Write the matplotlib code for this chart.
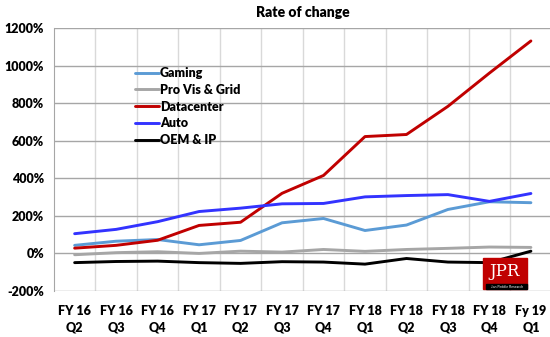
import numpy as np
import matplotlib.pyplot as plt
from matplotlib.patches import Rectangle

plt.rcParams['font.family'] = ['Lato', 'DejaVu Sans']

quarters = ['FY 16\nQ2', 'FY 16\nQ3', 'FY 16\nQ4', 'FY 17\nQ1', 'FY 17\nQ2', 'FY 17\nQ3',
            'FY 17\nQ4', 'FY 18\nQ1', 'FY 18\nQ2', 'FY 18\nQ3', 'FY 18\nQ4', 'Fy 19\nQ1']

# rate of change, percent
gaming = [43, 65, 74, 46, 69, 163, 186, 122, 151, 234, 275, 270]
provis = [-7, 4, 9, 0, 12, 7, 21, 11, 21, 27, 34, 32]
datacenter = [28, 43, 70, 149, 166, 320, 415, 622, 633, 783, 960, 1131]
auto = [105, 128, 169, 223, 241, 264, 266, 301, 308, 313, 277, 319]
oem = [-49, -43, -41, -49, -53, -44, -46, -57, -27, -46, -49, 12]

series = [('Gaming', gaming, '#5B9BD5'),
          ('Pro Vis & Grid', provis, '#A6A6A6'),
          ('Datacenter', datacenter, '#C00000'),
          ('Auto', auto, '#3333FF'),
          ('OEM & IP', oem, '#000000')]

fig = plt.figure(figsize=(5.5, 3.37), dpi=100)
ax = fig.add_axes([0.098, 0.1365, 0.905, 0.7805])

x = np.arange(len(quarters))
for name, vals, col in series:
    ax.plot(x, vals, color=col, lw=2.1, label=name, solid_capstyle='round')

ax.set_xlim(-0.5, len(quarters) - 0.5)
ax.set_ylim(-200, 1200)
ax.set_yticks(np.arange(-200, 1201, 200))
ax.set_yticklabels([f'{v}%' for v in range(-200, 1201, 200)], fontweight='heavy', fontsize=9)
ax.set_xticks(x)
ax.set_xticklabels(quarters, fontweight='heavy', fontsize=9, linespacing=1.5)
ax.tick_params(axis='x', pad=10)

# vertical grid between categories, horizontal at ticks
for xv in np.arange(-0.5, len(quarters), 1.0)[1:]:
    ax.axvline(xv, color='#D9D9D9', lw=1, zorder=0)
ax.yaxis.grid(True, color='#A6A6A6', lw=1, zorder=0)
ax.set_axisbelow(True)
ax.tick_params(length=0)
ax.tick_params(axis='y', pad=7)
for s in ['top', 'right', 'bottom']:
    ax.spines[s].set_visible(False)
ax.spines['left'].set_color('#A6A6A6')

ax.set_title('Rate of change', fontweight='heavy', fontsize=10, pad=8)

ax.legend(loc='upper left', bbox_to_anchor=(0.15, 0.875), frameon=False,
          prop={'weight': 'heavy', 'size': 9}, handlelength=1.9,
          handletextpad=0.1, labelspacing=0.38, borderpad=0)

# JPR logo
fig.patches.append(Rectangle((483 / 550, 1 - 289 / 337), 44 / 550, 31 / 337,
                             transform=fig.transFigure, color='#C00000', zorder=5))
fig.patches.append(Rectangle((486 / 550, 1 - 289 / 337), 41 / 550, 5 / 337,
                             transform=fig.transFigure, color='black', zorder=6))
fig.text(505 / 550, 1 - 271 / 337, 'JPR', color='white', family='DejaVu Serif',
         fontsize=12, ha='center', va='center', zorder=7)
fig.text(507 / 550, 1 - 286.5 / 337, 'Jon Peddie Research', color='white',
         fontsize=2.5, ha='center', va='center', zorder=7)

fig.savefig('out.png', dpi=100)
